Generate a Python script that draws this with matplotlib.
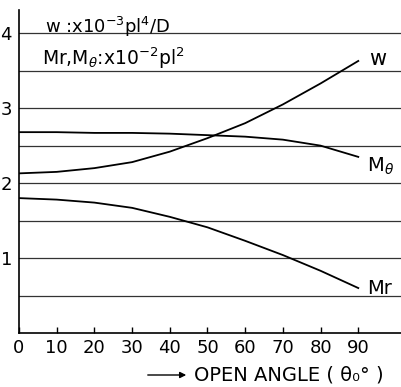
import numpy as np
import matplotlib.pyplot as plt

theta = [0, 10, 20, 30, 40, 50, 60, 70, 80, 90]
w = [2.13, 2.15, 2.20, 2.28, 2.42, 2.60, 2.80, 3.05, 3.33, 3.63]
m_theta = [2.68, 2.68, 2.67, 2.67, 2.66, 2.64, 2.62, 2.58, 2.50, 2.35]
m_r = [1.80, 1.78, 1.74, 1.67, 1.55, 1.41, 1.23, 1.04, 0.83, 0.60]

fig = plt.figure(figsize=(4.02, 3.87), dpi=100)
ax = fig.add_axes([19 / 402, 54 / 387, 383 / 402, 323 / 387])

ax.set_xlim(0, 101.6)
ax.set_ylim(0, 4.31)

# grid lines every 0.5
ax.set_yticks([1, 2, 3, 4])
ax.set_yticks(np.arange(0.5, 4.01, 0.5), minor=True)
ax.yaxis.grid(True, which='both', color='#333333', lw=0.9)
ax.tick_params(axis='y', which='both', length=0, pad=5, labelsize=13)

ax.set_xticks(theta)
ax.tick_params(axis='x', direction='in', length=4, width=1, pad=4, labelsize=13)

for s in ['top', 'right']:
    ax.spines[s].set_visible(False)
ax.spines['left'].set_linewidth(1.2)
ax.spines['bottom'].set_linewidth(1.2)

ax.plot(theta, w, color='black', lw=1.3)
ax.plot(theta, m_theta, color='black', lw=1.3)
ax.plot(theta, m_r, color='black', lw=1.3)

ax.text(95.2, 3.66, 'w', fontsize=15, ha='center', va='center')
ax.text(95.8, 2.22, r'M$_{\theta}$', fontsize=14, ha='center', va='center')
ax.text(95.6, 0.6, 'Mr', fontsize=14, ha='center', va='center')

ax.text(6.9, 4.09, r'w :x10$^{-3}$pl$^{4}$/D', fontsize=13, ha='left', va='center')
ax.text(6.1, 3.67, r'Mr,M$_{\theta}$:x10$^{-2}$pl$^{2}$', fontsize=13.5, ha='left', va='center')

ax.annotate('', xy=(189 / 402, 12 / 387), xytext=(145 / 402, 12 / 387),
            xycoords='figure fraction',
            arrowprops=dict(arrowstyle='-|>', color='black', lw=1, mutation_scale=9))
fig.text(194 / 402, 12 / 387, 'OPEN ANGLE ( θ₀° )', fontsize=14, ha='left', va='center')

fig.savefig('out.png', dpi=100)
